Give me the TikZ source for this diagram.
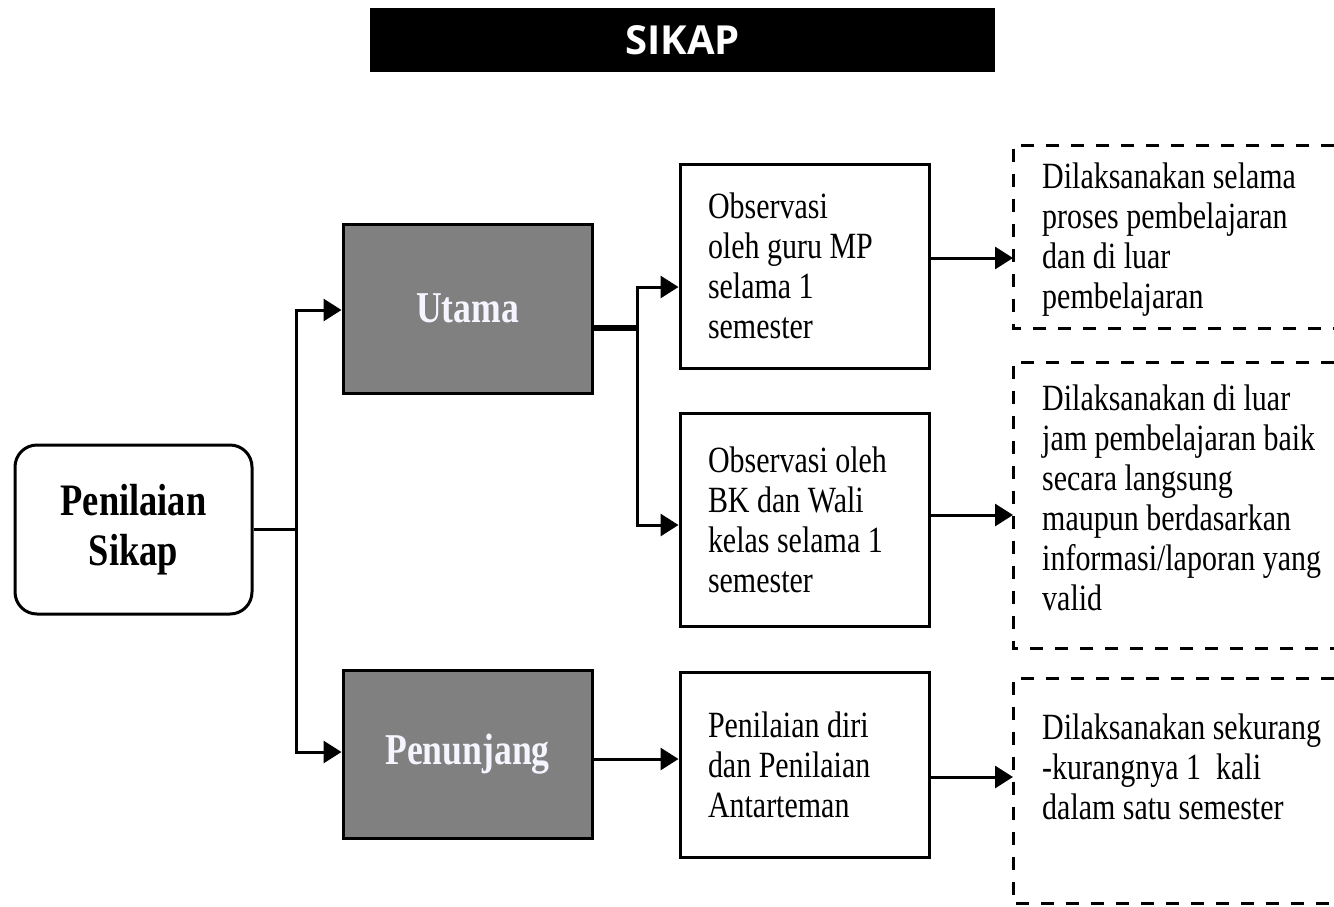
\documentclass[tikz,border=0pt]{standalone}
\usepackage{fontspec}
\setmainfont{Liberation Serif}[FakeStretch=0.81]
\newfontfamily\titlefont{Open Sans}
\usetikzlibrary{arrows.meta}

\tikzset{
  heading/.style={fill=black, text=white, minimum width=625, minimum height=64,
    inner sep=0, font=\titlefont\bfseries\fontsize{40}{44}\selectfont},
  rootbox/.style={draw, line width=3, rounded corners=22, minimum width=237,
    minimum height=169, align=center, font=\bfseries\fontsize{45}{50}\selectfont},
  kindbox/.style={draw, line width=3, fill=black!50, text=white!96!blue,
    minimum width=249, minimum height=169, font=\bfseries\fontsize{44}{48}\selectfont},
  methodbox/.style={draw, line width=3, minimum width=249, text width=193,
    inner xsep=28, align=flush left, font=\fontsize{37}{40}\selectfont},
  notearea/.style={minimum width=321, inner sep=0, anchor=north west},
  notetext/.style={anchor=west, align=flush left, inner sep=0,
    font=\fontsize{37}{40}\selectfont},
  frame/.style={line width=3, dash pattern=on 13pt off 12pt},
  link/.style={line width=3},
  arr/.style={line width=3, -{Triangle[length=18pt,width=22pt]}}
}

\begin{document}
\begin{tikzpicture}[x=1pt,y=-1pt]
\useasboundingbox (0,0) rectangle (1334,906);

% title bar
\node[heading] (title) at (682.5,40) {SIKAP};

% main boxes
\node[rootbox] (ps) at (133.5,529.5) {Penilaian\\Sikap};
\node[kindbox] (ut) at (467.5,308.5) {\raisebox{-2pt}{Utama}};
\node[kindbox, minimum height=168] (pn) at (467.5,754) {\raisebox{-8pt}{Penunjang}};

\node[methodbox, minimum height=204] (b1) at (804.5,266)
  {Observasi\\oleh guru MP\\selama 1\\semester};
\node[methodbox, minimum height=213] (b2) at (804.5,519.5)
  {Observasi oleh\\BK dan Wali\\kelas selama 1\\semester};
\node[methodbox, minimum height=185] (b3) at (804.5,764.5)
  {Penilaian diri\\dan Penilaian\\Antarteman};

% open dashed note areas on the right
\node[notearea, minimum height=183] (fA) at (1013,145) {};
\node[notearea, minimum height=286] (fB) at (1013,362) {};
\node[notearea, minimum height=225] (fC) at (1013,678) {};
\foreach \f in {fA,fB,fC}
  \draw[frame] (\f.north east) -- (\f.north west) -- (\f.south west) -- (\f.south east);

\node[notetext] (tA) at (1042,240)
  {Dilaksanakan selama\\proses pembelajaran\\dan di luar\\pembelajaran};
\node[notetext] (tB) at (1042,498)
  {Dilaksanakan di luar\\jam pembelajaran baik\\secara langsung\\maupun berdasarkan\\informasi/laporan yang\\valid};
\node[notetext] (tC) at (1042,767)
  {Dilaksanakan sekurang\\-kurangnya 1\ \ kali\\dalam satu semester};

% branching connectors
\coordinate (j1) at (296,529.5);
\draw[link] (ps.east) -- (j1);
\draw[arr] (j1) |- ([yshift=-1.5pt]ut.west);
\draw[arr] (j1) |- ([yshift=2pt]pn.west);

\coordinate (j2) at (637,328);
\draw[line width=6] ([yshift=-19.5pt]ut.east) -- (j2);
\draw[arr] (j2) |- ([yshift=-21pt]b1.west);
\draw[arr] (j2) |- ([yshift=-5.5pt]b2.west);
\draw[arr] ([yshift=-5pt]pn.east) -- ([yshift=-5pt]pn.east -| b3.west);

\draw[arr] ([yshift=8pt]b1.east) -- ([yshift=8pt]b1.east -| fA.west);
\draw[arr] ([yshift=4.5pt]b2.east) -- ([yshift=4.5pt]b2.east -| fB.west);
\draw[arr] ([yshift=-12.5pt]b3.east) -- ([yshift=-12.5pt]b3.east -| fC.west);
\end{tikzpicture}
\end{document}
